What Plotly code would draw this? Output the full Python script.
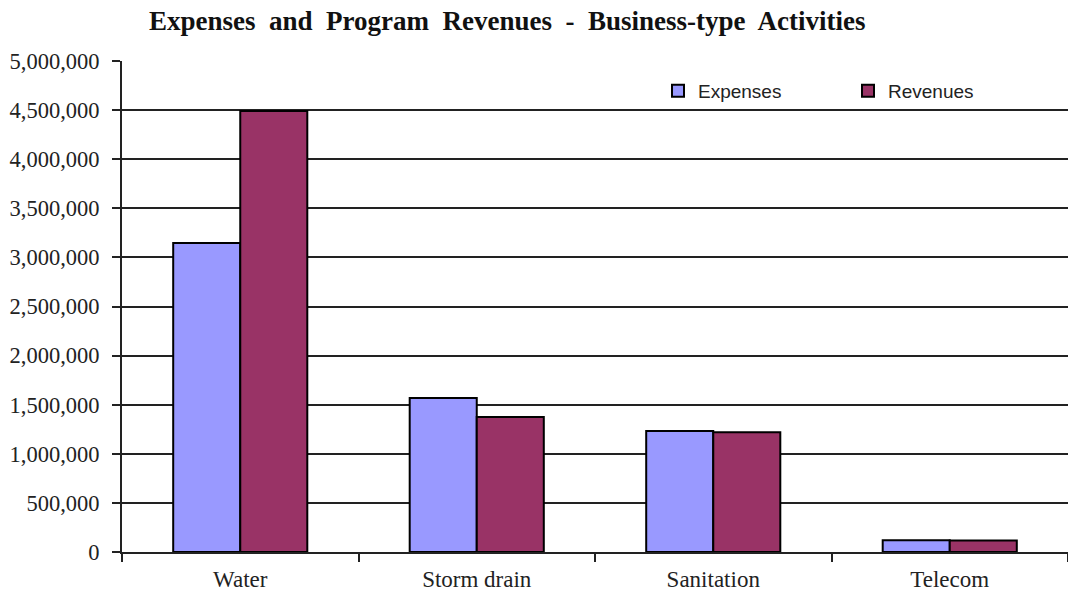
import plotly.graph_objects as go

categories = ["Water", "Storm drain", "Sanitation", "Telecom"]
expenses = [3147000, 1568000, 1232000, 120000]
revenues = [4490000, 1375000, 1220000, 118000]

fig = go.Figure()
fig.add_trace(go.Bar(x=categories, y=expenses, name="Expenses", legend="legend",
                     marker=dict(color="#9999FF", line=dict(color="#000000", width=2))))
fig.add_trace(go.Bar(x=categories, y=revenues, name="Revenues", legend="legend2",
                     marker=dict(color="#993366", line=dict(color="#000000", width=2))))

serif = "Liberation Serif, Times New Roman, serif"
sans = "Liberation Sans, Arial, sans-serif"
legfont = dict(family=sans, size=19, color="#222222")
fig.update_layout(
    width=1068, height=594,
    margin=dict(l=122, r=0, t=61, b=42),
    paper_bgcolor="white", plot_bgcolor="white",
    barmode="group", bargap=0.433, bargroupgap=0,
    title=dict(text="<b>Expenses  and  Program  Revenues  -  Business-type  Activities</b>",
               x=0.475, xanchor="center", y=0.966, yanchor="middle",
               font=dict(family=serif, size=27, color="#111111")),
    legend=dict(x=(658 - 122) / 946, y=0.939, xanchor="left", yanchor="middle",
                font=legfont, bgcolor="rgba(0,0,0,0)", itemclick=False),
    legend2=dict(x=(848 - 122) / 946, y=0.939, xanchor="left", yanchor="middle",
                 font=legfont, bgcolor="rgba(0,0,0,0)", itemclick=False),
    showlegend=True,
)
fig.update_yaxes(range=[0, 5000000], dtick=500000, tickformat=",",
                 showgrid=True, gridcolor="#222222", gridwidth=1.5,
                 showline=True, linecolor="#222222", linewidth=2,
                 ticks="outside", ticklen=8, tickcolor="#222222", tickwidth=1.5,
                 ticklabelstandoff=8,
                 tickfont=dict(family=serif, size=22.5, color="#222222"),
                 zeroline=False)
fig.update_xaxes(showline=True, linecolor="#222222", linewidth=2,
                 ticks="outside", tickson="boundaries", ticklen=8, tickcolor="#222222",
                 tickwidth=1.5, ticklabelstandoff=5,
                 tickfont=dict(family=serif, size=23, color="#222222"))

fig.write_html("out.html")
